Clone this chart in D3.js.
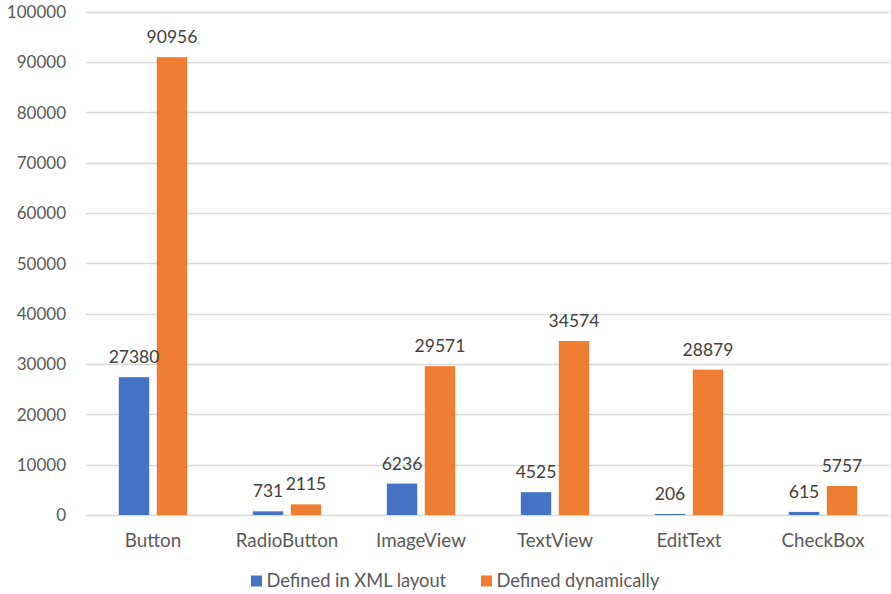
<!DOCTYPE html>
<html>
<head>
<meta charset="utf-8">
<script src="https://cdn.jsdelivr.net/npm/d3@7"></script>
<style>
  html, body { margin: 0; padding: 0; background: #ffffff; }
  svg { display: block; }
  text { font-family: Lato, "Open Sans", sans-serif; }
</style>
</head>
<body>
<svg id="chart" width="891" height="594"></svg>
<script>
// Widget counts per UI component type
const categories = ["Button", "RadioButton", "ImageView", "TextView", "EditText", "CheckBox"];
const seriesNames = ["Defined in XML layout", "Defined dynamically"];
const xmlValues = [27380, 731, 6236, 4525, 206, 615];
const dynamicValues = [90956, 2115, 29571, 34574, 28879, 5757];
const yTicks = [0, 10000, 20000, 30000, 40000, 50000, 60000, 70000, 80000, 90000, 100000];

const colors = ["#4472C4", "#ED7D31"];
const seriesValues = [xmlValues, dynamicValues];

const svg = d3.select("#chart");
const plot = { left: 86, right: 890, top: 11.7, bottom: 515 };

const y = d3.scaleLinear().domain([0, 100000]).range([plot.bottom, plot.top]);

const x0 = d3.scaleBand()
  .domain(categories)
  .range([plot.left, plot.right])
  .paddingInner(0.49)
  .paddingOuter(0.245);

const x1 = d3.scaleBand()
  .domain(seriesNames)
  .range([0, x0.bandwidth()])
  .paddingInner(0.2);

// Horizontal gridlines
svg.append("g")
  .selectAll("line")
  .data(yTicks)
  .join("line")
  .attr("x1", plot.left)
  .attr("x2", plot.right)
  .attr("y1", d => Math.round(y(d)) + 0.5)
  .attr("y2", d => Math.round(y(d)) + 0.5)
  .attr("stroke", "#d9d9d9")
  .attr("stroke-width", 1.3);

// Y axis labels
const yAxis = d3.axisLeft(y).tickValues(yTicks).tickSize(0).tickPadding(0).tickFormat(d3.format("d"));
const yg = svg.append("g").attr("transform", `translate(66,0)`).call(yAxis);
yg.select(".domain").remove();
yg.selectAll("text")
  .attr("fill", "#595959")
  .style("font-size", "17px")
  .attr("dy", "0.35em");

// Bars and value labels
const groups = svg.append("g")
  .selectAll("g")
  .data(categories)
  .join("g")
  .attr("transform", d => `translate(${x0(d)},0)`);

seriesNames.forEach((name, si) => {
  groups.append("rect")
    .attr("x", x1(name))
    .attr("width", x1.bandwidth())
    .attr("y", (d, i) => y(seriesValues[si][i]))
    .attr("height", (d, i) => y(0) - y(seriesValues[si][i]))
    .attr("fill", colors[si]);
});

seriesNames.forEach((name, si) => {
  groups.append("text")
    .attr("x", x1(name) + x1.bandwidth() / 2)
    .attr("y", (d, i) => y(seriesValues[si][i]) - 14)
    .attr("text-anchor", "middle")
    .attr("fill", "#404040")
    .style("font-size", "17.5px")
    .text((d, i) => seriesValues[si][i]);
});

// Category axis labels
const xAxis = d3.axisBottom(x0).tickSize(0).tickPadding(0);
const xg = svg.append("g").attr("transform", `translate(0,${plot.bottom})`).call(xAxis);
xg.select(".domain").remove();
xg.selectAll("text")
  .attr("fill", "#595959")
  .attr("dy", null)
  .attr("y", 32)
  .style("font-size", "18.8px");

// Legend
const legendItems = [
  { name: seriesNames[0], color: colors[0], x: 251 },
  { name: seriesNames[1], color: colors[1], x: 481 }
];
const legend = svg.append("g");
legendItems.forEach(item => {
  legend.append("rect")
    .attr("x", item.x)
    .attr("y", 575.5)
    .attr("width", 11)
    .attr("height", 11)
    .attr("fill", item.color);
  legend.append("text")
    .attr("x", item.x + 15.5)
    .attr("y", 587)
    .attr("fill", "#595959")
    .style("font-size", "18.3px")
    .text(item.name);
});
</script>
</body>
</html>
